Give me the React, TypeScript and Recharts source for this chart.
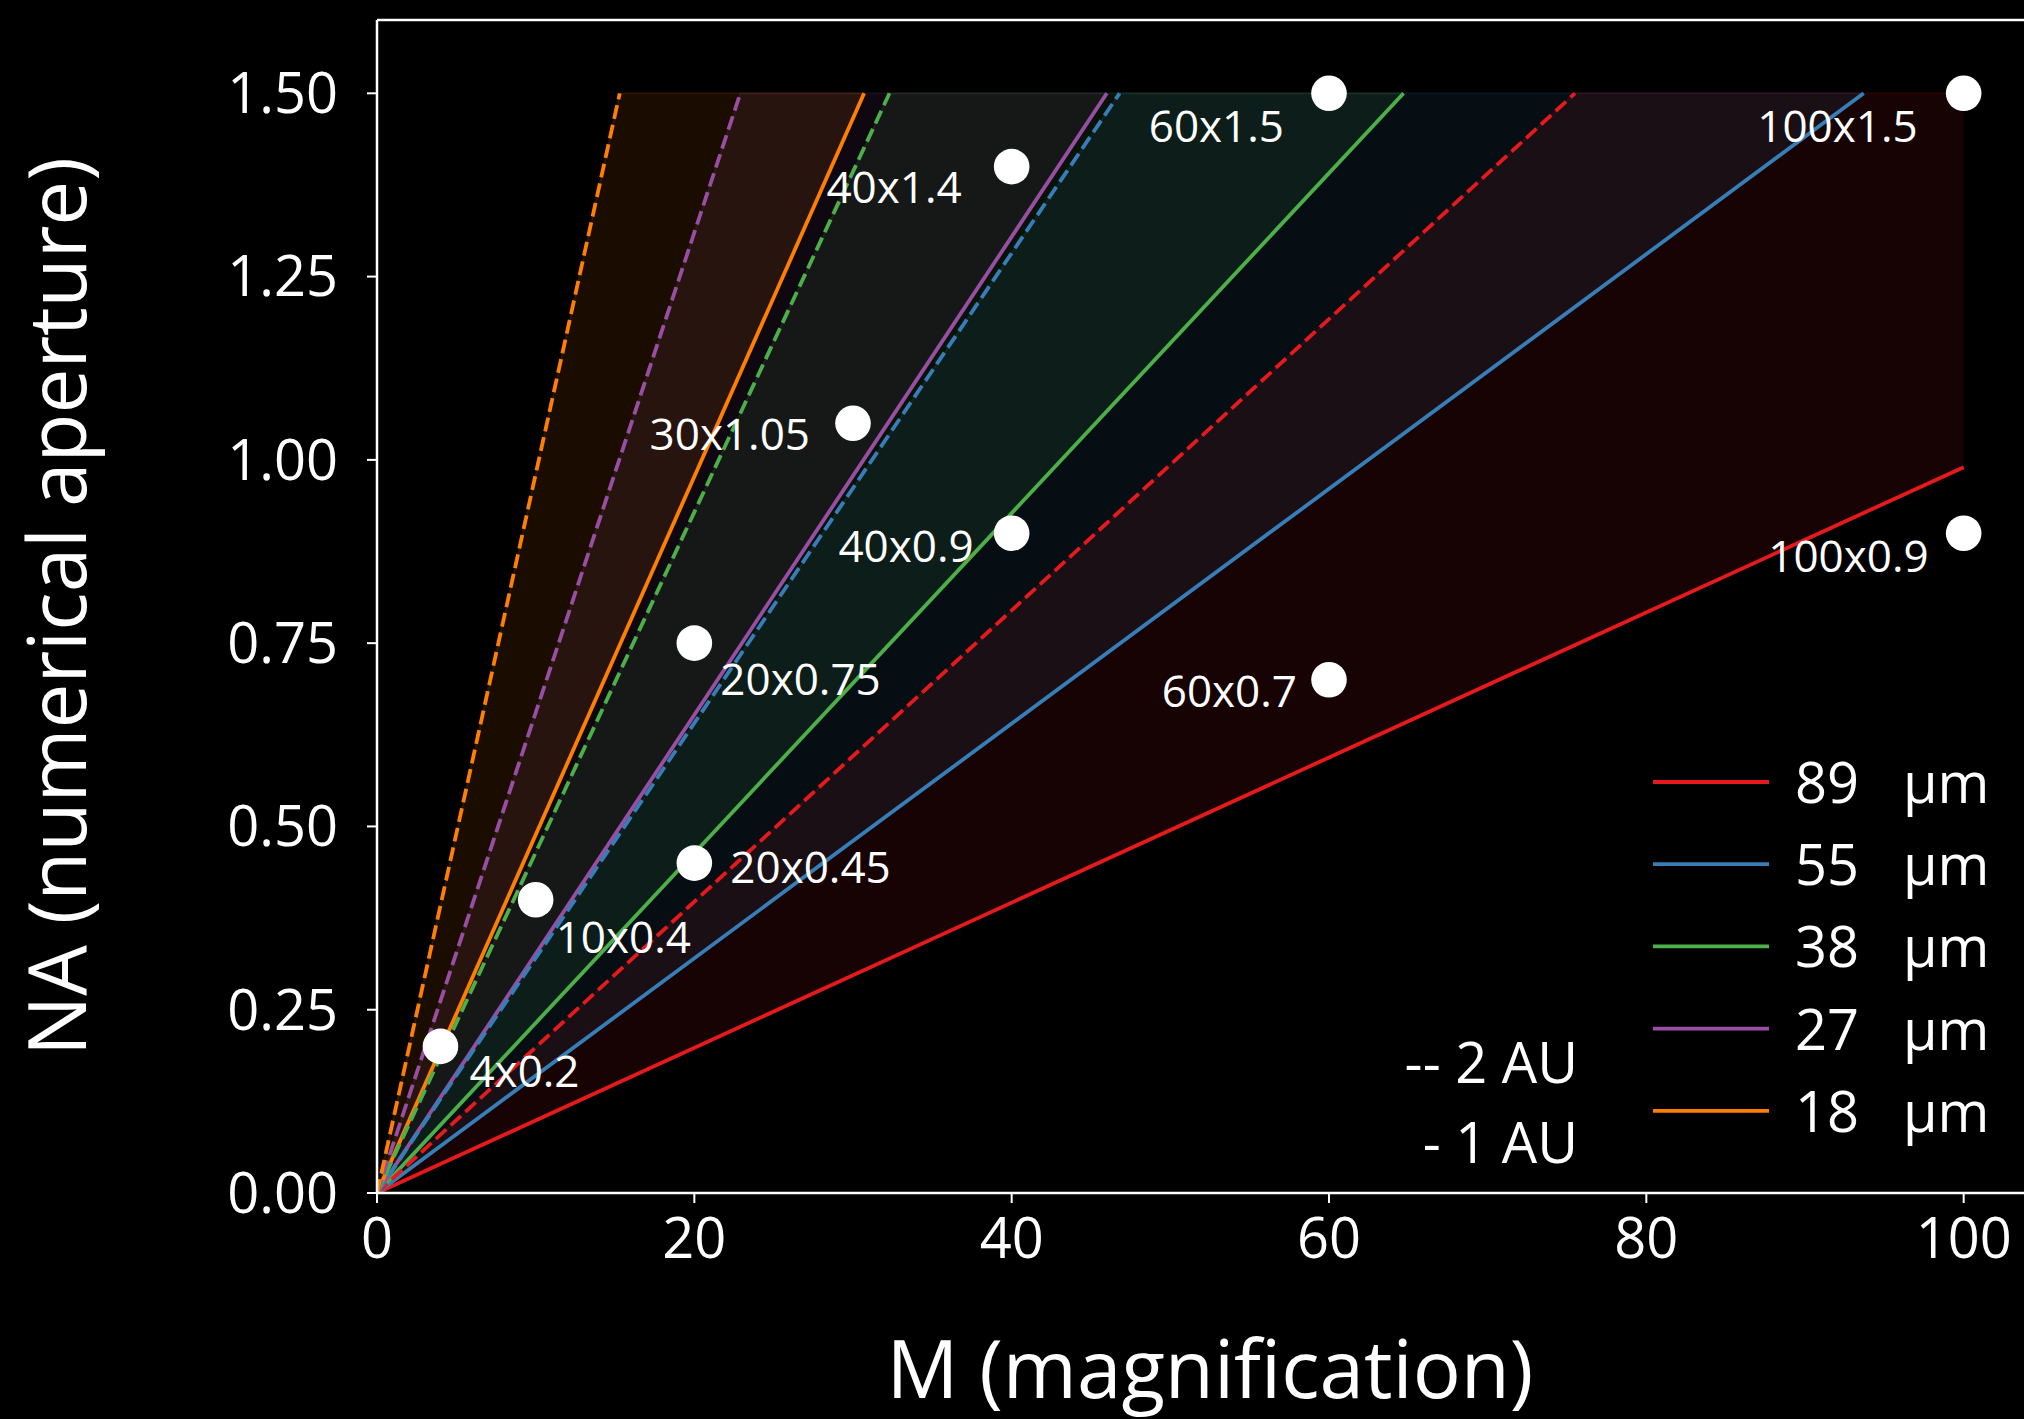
import React from "react";
import {
  ComposedChart,
  Area,
  Line,
  Scatter,
  XAxis,
  YAxis,
  ReferenceLine,
  Legend,
  Label,
} from "recharts";

// Detector pixel sizes (µm) and their colours
const sizeLabels = ["89", "55", "38", "27", "18"];
const sizeColors = ["#e41a1c", "#377eb8", "#4daf4a", "#984ea3", "#ff7f00"];

// End points of the 1 AU (solid) lines
const solidEndM = [100, 93.7, 64.7, 46.0, 30.7];
const solidEndNA = [0.99, 1.5, 1.5, 1.5, 1.5];

// End points of the 2 AU (dashed) lines
const dashedEndM = [75.5, 46.8, 32.3, 22.9, 15.3];
const dashedEndNA = [1.5, 1.5, 1.5, 1.5, 1.5];

// Objectives
const objM = [4, 10, 20, 20, 30, 40, 40, 60, 60, 100, 100];
const objNA = [0.2, 0.4, 0.45, 0.75, 1.05, 0.9, 1.4, 0.7, 1.5, 0.9, 1.5];
const objLabels = [
  "4x0.2",
  "10x0.4",
  "20x0.45",
  "20x0.75",
  "30x1.05",
  "40x0.9",
  "40x1.4",
  "60x0.7",
  "60x1.5",
  "100x0.9",
  "100x1.5",
];

// Label placement (pixel offsets from the point)
const labelDx = [29, 20, 36, 26, -43, -38, -50, -32, -45, -35, -46];
const labelDy = [41, 53, 20, 52, 27, 29, 36, 27, 49, 39, 49];
const labelAnchor = [
  "start",
  "start",
  "start",
  "start",
  "end",
  "end",
  "end",
  "end",
  "end",
  "end",
  "end",
];

const xTicks = [0, 20, 40, 60, 80, 100];
const yTicks = [0, 0.25, 0.5, 0.75, 1.0, 1.25, 1.5];

const FONT = "'Open Sans', sans-serif";

// Tables for the library
const solidLines = sizeLabels.map((_, i) => [
  { x: 0, y: 0 },
  { x: solidEndM[i], y: solidEndNA[i] },
]);
const dashedLines = sizeLabels.map((_, i) => [
  { x: 0, y: 0 },
  { x: dashedEndM[i], y: dashedEndNA[i] },
]);
const fills = sizeLabels.map((_, i) => {
  const sm = solidEndM[i];
  const sn = solidEndNA[i];
  const dm = dashedEndM[i];
  const dn = dashedEndNA[i];
  return [
    { x: 0, range: [0, 0] },
    { x: dm, range: [(sn * dm) / sm, dn] },
    { x: sm, range: [sn, dn] },
  ];
});
const points = objM.map((m, i) => ({ x: m, y: objNA[i], idx: i }));

const PointShape = (props: any) => {
  const { cx, cy } = props;
  if (cx == null || cy == null) return null;
  return <circle cx={cx} cy={cy} r={17.8} fill="#ffffff" />;
};

const LabelShape = (props: any) => {
  const { cx, cy, payload } = props;
  if (cx == null || cy == null || !payload) return null;
  const i = payload.idx;
  return (
    <text
      x={cx + labelDx[i]}
      y={cy + labelDy[i]}
      textAnchor={labelAnchor[i] as any}
      fill="#ffffff"
      fontSize={44}
      fontFamily={FONT}
    >
      {objLabels[i]}
    </text>
  );
};

const LegendContent = () => (
  <svg width={640} height={440} style={{ overflow: "visible" }}>
    {sizeLabels.map((s, i) => {
      const y = 42 + i * 82.2;
      return (
        <g key={s}>
          <line
            x1={273}
            x2={389}
            y1={y}
            y2={y}
            stroke={sizeColors[i]}
            strokeWidth={3.8}
          />
          <text y={y + 21} fill="#ffffff" fontSize={56} fontFamily={FONT}>
            <tspan x={415}>{s}</tspan>
            <tspan x={523}>µm</tspan>
          </text>
        </g>
      );
    })}
    <text
      x={198}
      y={343}
      textAnchor="end"
      fill="#ffffff"
      fontSize={56}
      fontFamily={FONT}
    >
      -- 2 AU
    </text>
    <text
      x={198}
      y={423}
      textAnchor="end"
      fill="#ffffff"
      fontSize={56}
      fontFamily={FONT}
    >
      - 1 AU
    </text>
  </svg>
);

export default function App() {
  return (
    <div
      style={{
        position: "fixed",
        left: 0,
        top: 0,
        width: 2024,
        height: 1419,
        overflow: "hidden",
        background: "#000000",
      }}
    >
      <ComposedChart
        width={2060}
        height={1419}
        margin={{ top: 20, right: 17, bottom: 0, left: 0 }}
        style={{ fontFamily: FONT }}
      >
        <XAxis
          dataKey="x"
          type="number"
          domain={[0, 105]}
          allowDataOverflow
          ticks={xTicks}
          height={226}
          stroke="#ffffff"
          strokeWidth={2.5}
          tickSize={10}
          tickMargin={15}
          tickLine={{ stroke: "#ffffff", strokeWidth: 2 }}
          tick={{ fill: "#ffffff", fontSize: 56, fontFamily: FONT }}
        >
          <Label
            content={(p: any) => {
              const vb = p.viewBox || {};
              return (
                <text
                  x={vb.x + vb.width / 2}
                  y={vb.y + 205}
                  textAnchor="middle"
                  fill="#ffffff"
                  fontSize={80}
                  fontFamily={FONT}
                >
                  M (magnification)
                </text>
              );
            }}
          />
        </XAxis>
        <YAxis
          dataKey="y"
          type="number"
          domain={[0, 1.6]}
          allowDataOverflow
          ticks={yTicks}
          width={377}
          stroke="#ffffff"
          strokeWidth={2.5}
          tickSize={10}
          tickMargin={29}
          tickLine={{ stroke: "#ffffff", strokeWidth: 2 }}
          tickFormatter={(v: number) => v.toFixed(2)}
          tick={{ fill: "#ffffff", fontSize: 56, fontFamily: FONT }}
        >
          <Label
            content={(p: any) => {
              const vb = p.viewBox || {};
              const cx = 86;
              const cy = vb.y + vb.height / 2;
              return (
                <text
                  x={cx}
                  y={cy}
                  textAnchor="middle"
                  transform={`rotate(-90, ${cx}, ${cy})`}
                  fill="#ffffff"
                  fontSize={80}
                  fontFamily={FONT}
                >
                  NA (numerical aperture)
                </text>
              );
            }}
          />
        </YAxis>
        <ReferenceLine y={1.6} stroke="#ffffff" strokeWidth={2.5} />

        {fills.map((d, i) => (
          <Area
            key={`fill-${i}`}
            data={d}
            dataKey="range"
            type="linear"
            fill={sizeColors[i]}
            fillOpacity={0.1}
            stroke={sizeColors[i]}
            strokeOpacity={0.12}
            strokeWidth={2}
            legendType="none"
            isAnimationActive={false}
            activeDot={false}
            dot={false}
          />
        ))}

        {solidLines.map((d, i) => (
          <Line
            key={`solid-${i}`}
            data={d}
            dataKey="y"
            name={`${sizeLabels[i]}  µm`}
            type="linear"
            stroke={sizeColors[i]}
            strokeWidth={3.8}
            dot={false}
            activeDot={false}
            isAnimationActive={false}
          />
        ))}
        {dashedLines.map((d, i) => (
          <Line
            key={`dashed-${i}`}
            data={d}
            dataKey="y"
            type="linear"
            stroke={sizeColors[i]}
            strokeWidth={3.8}
            strokeDasharray="14 6"
            dot={false}
            activeDot={false}
            legendType="none"
            isAnimationActive={false}
          />
        ))}

        <Scatter
          data={points}
          dataKey="y"
          shape={PointShape}
          legendType="none"
          isAnimationActive={false}
        />
        <Scatter
          data={points}
          dataKey="y"
          shape={LabelShape}
          legendType="none"
          isAnimationActive={false}
        />

        <Legend
          layout="horizontal"
          verticalAlign="middle"
          align="center"
          content={LegendContent}
          wrapperStyle={{
            position: "absolute",
            left: 1380,
            top: 740,
            width: 640,
            height: 440,
          }}
        />
      </ComposedChart>
    </div>
  );
}
